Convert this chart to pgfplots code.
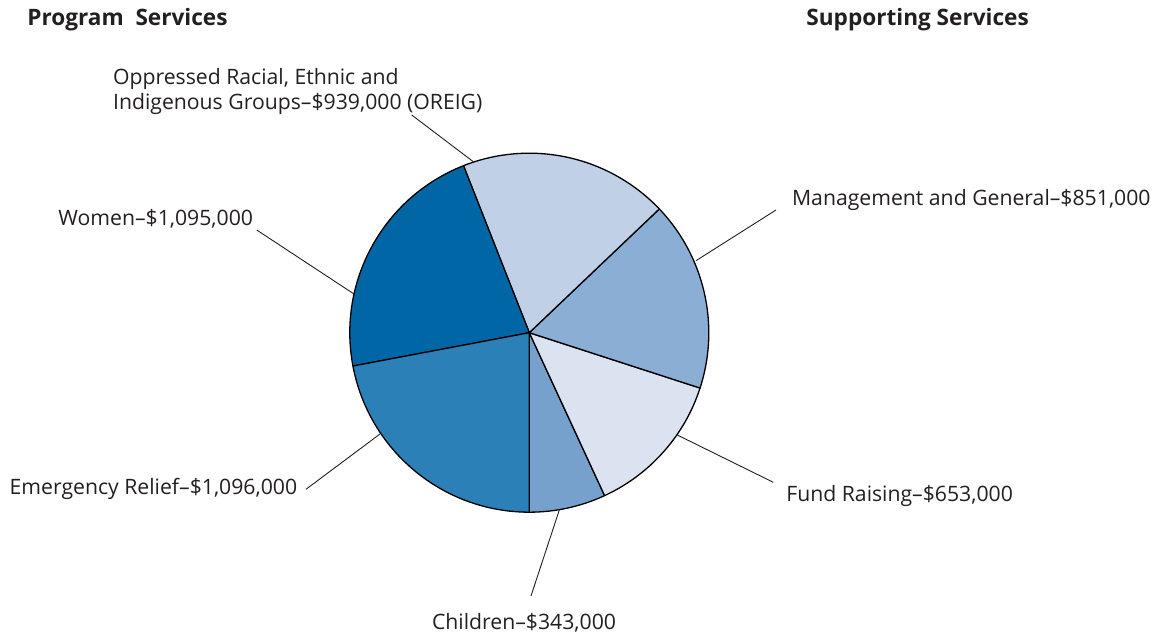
\documentclass[border=0pt]{standalone}
\usepackage{pgfplots}
\usepackage{pgfplotstable}
\pgfplotsset{compat=1.18}
\usepackage{fontspec}
\setmainfont{Open Sans}
\definecolor{cWomen}{HTML}{0066A6}
\definecolor{cEmerg}{HTML}{2B80B7}
\definecolor{cOreig}{HTML}{C0D0E6}
\definecolor{cMgmt}{HTML}{8AAED4}
\definecolor{cFund}{HTML}{DCE3F0}
\definecolor{cChildren}{HTML}{75A1CC}
\definecolor{txt}{HTML}{231F20}
% Expenses in thousands of dollars, counter-clockwise from the bottom
\pgfplotstableread[col sep=comma]{
label,value
Children,343
Fund Raising,653
Management and General,851
OREIG,939
Women,1095
Emergency Relief,1096
}\piedata
\pgfplotstablegetelem{0}{value}\of\piedata\let\vA\pgfplotsretval
\pgfplotstablegetelem{1}{value}\of\piedata\let\vB\pgfplotsretval
\pgfplotstablegetelem{2}{value}\of\piedata\let\vC\pgfplotsretval
\pgfplotstablegetelem{3}{value}\of\piedata\let\vD\pgfplotsretval
\pgfplotstablegetelem{4}{value}\of\piedata\let\vE\pgfplotsretval
\pgfplotstablegetelem{5}{value}\of\piedata\let\vF\pgfplotsretval
\pgfmathsetmacro{\tot}{\vA+\vB+\vC+\vD+\vE+\vF}
\pgfmathsetmacro{\aA}{-90}
\pgfmathsetmacro{\aB}{\aA+360*(\vA/\tot)}
\pgfmathsetmacro{\aC}{\aB+360*(\vB/\tot)}
\pgfmathsetmacro{\aD}{\aC+360*(\vC/\tot)}
\pgfmathsetmacro{\aE}{\aD+360*(\vD/\tot)}
\pgfmathsetmacro{\aF}{\aE+360*(\vE/\tot)}
\pgfmathsetmacro{\aG}{270}
\def\cx{529.3}
\def\cy{303.3}
\def\R{179.5}
\newcommand\pieslice[3]{%
  \filldraw[fill=#1, draw=black, line width=0.65pt, line join=round]
    (axis cs:\cx,\cy) -- (axis cs:{\cx+\R*cos(#2)},{\cy+\R*sin(#2)})
    arc[start angle=#2, end angle=#3, radius=89.75pt] -- cycle;}
\begin{document}
\begin{tikzpicture}
\begin{axis}[
  x=0.5pt, y=0.5pt,
  xmin=0, xmax=1163, ymin=0, ymax=636,
  hide axis, clip=false,
]
\pieslice{cChildren}{\aA}{\aB}
\pieslice{cFund}{\aB}{\aC}
\pieslice{cMgmt}{\aC}{\aD}
\pieslice{cOreig}{\aD}{\aE}
\pieslice{cWomen}{\aE}{\aF}
\pieslice{cEmerg}{\aF}{\aG}
% leader lines
\draw[txt, line width=0.45pt] (axis cs:411.7,521) -- (axis cs:473.3,474.3);
\draw[txt, line width=0.45pt] (axis cs:256.7,406) -- (axis cs:354,342);
\draw[txt, line width=0.45pt] (axis cs:306,146.7) -- (axis cs:380,202);
\draw[txt, line width=0.45pt] (axis cs:531,40) -- (axis cs:559.3,126);
\draw[txt, line width=0.45pt] (axis cs:773.3,153.7) -- (axis cs:677.3,201);
\draw[txt, line width=0.45pt] (axis cs:776,426) -- (axis cs:696,375.3);
% labels
\begin{scope}[every node/.style={inner sep=0pt, anchor=base west, text=txt, font=\fontsize{10.6}{12}\selectfont}]
\node[font=\fontsize{11.3}{13}\selectfont\bfseries] at (axis cs:27,610) {Program\ \ Services};
\node[font=\fontsize{11.3}{13}\selectfont\bfseries] at (axis cs:806,610) {Supporting Services};
\node at (axis cs:112.7,551.7) {Oppressed Racial, Ethnic and};
\node at (axis cs:112.7,526.7) {Indigenous Groups–\$939,000 (OREIG)};
\node at (axis cs:58,410.3) {Women–\$1,095,000};
\node at (axis cs:9.3,141) {Emergency Relief–\$1,096,000};
\node at (axis cs:431.7,6) {Children–\$343,000};
\node at (axis cs:786,134.3) {Fund Raising–\$653,000};
\node at (axis cs:791.7,430) {Management and General–\$851,000};
\end{scope}
\end{axis}
\pgfresetboundingbox
\path[use as bounding box] (current axis.south west) rectangle (current axis.north east);
\end{tikzpicture}
\end{document}
